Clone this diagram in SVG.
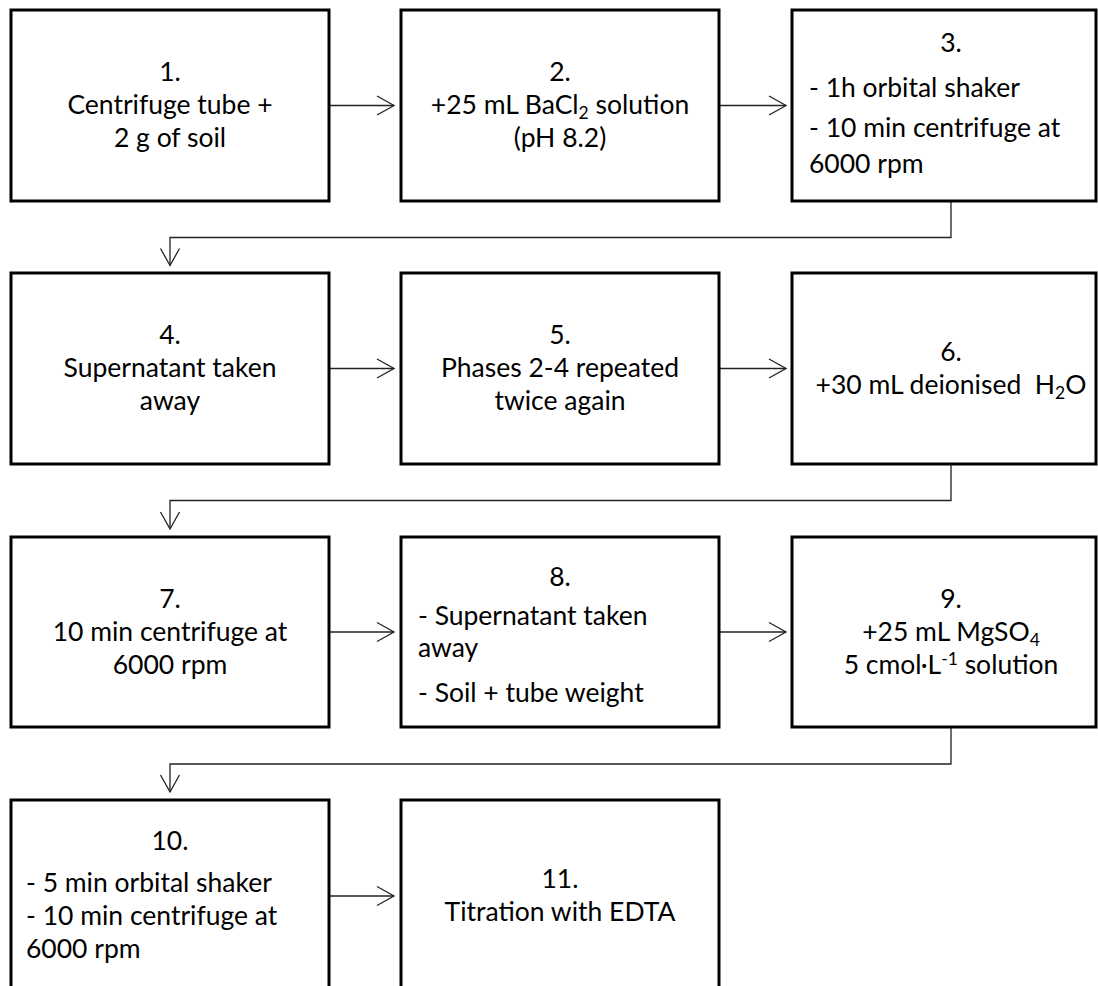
<svg xmlns="http://www.w3.org/2000/svg" width="1098" height="986" viewBox="0 0 1098 986">
<style>
.box{fill:#fff;stroke:#000;stroke-width:3}
.t{font-family:Lato,"Open Sans","Liberation Sans",sans-serif;font-size:26.5px;fill:#000}
.c{text-anchor:middle}
.sub{font-size:17.5px}
.con{fill:none;stroke:#222;stroke-width:1.3}
</style>
<defs>
<marker id="arr" markerWidth="20" markerHeight="22" refX="18" refY="11" orient="auto" markerUnits="userSpaceOnUse" viewBox="0 0 20 22">
<path d="M1,1.5 L18,11 L1,20.5" fill="none" stroke="#222" stroke-width="1.3"/>
</marker>
</defs>
<rect width="1098" height="986" fill="#fff"/>
<g id="connectors">
<path class="con" d="M329,105.5 H394" marker-end="url(#arr)"/>
<path class="con" d="M719,105.5 H786" marker-end="url(#arr)"/>
<path class="con" d="M951,201 V237.5 H170 V265.5" marker-end="url(#arr)"/>
<path class="con" d="M329,368.5 H394" marker-end="url(#arr)"/>
<path class="con" d="M719,368.5 H786" marker-end="url(#arr)"/>
<path class="con" d="M951,464 V500.5 H170 V529" marker-end="url(#arr)"/>
<path class="con" d="M329,632 H394" marker-end="url(#arr)"/>
<path class="con" d="M719,632 H786" marker-end="url(#arr)"/>
<path class="con" d="M951,727 V764 H170 V792" marker-end="url(#arr)"/>
<path class="con" d="M329,896 H394" marker-end="url(#arr)"/>
</g>
<g id="n1">
<rect class="box" x="11" y="10" width="318" height="191"/>
<text class="t c" x="170" y="81">1.</text>
<text class="t c" x="170" y="114">Centrifuge tube +</text>
<text class="t c" x="170" y="147">2 g of soil</text>
</g>
<g id="n2">
<rect class="box" x="401" y="10" width="318" height="191"/>
<text class="t c" x="560" y="81">2.</text>
<text class="t c" x="560" y="114">+25 mL BaCl<tspan class="sub" dy="5">2</tspan><tspan dy="-5"> solution</tspan></text>
<text class="t c" x="560" y="147">(pH 8.2)</text>
</g>
<g id="n3">
<rect class="box" x="792" y="10" width="304" height="191"/>
<text class="t c" x="951" y="52">3.</text>
<text class="t" x="809" y="97">- 1h orbital shaker</text>
<text class="t" x="809" y="137">- 10 min centrifuge at</text>
<text class="t" x="809" y="173">6000 rpm</text>
</g>
<g id="n4">
<rect class="box" x="11" y="273" width="318" height="191"/>
<text class="t c" x="170" y="344">4.</text>
<text class="t c" x="170" y="377">Supernatant taken</text>
<text class="t c" x="170" y="410">away</text>
</g>
<g id="n5">
<rect class="box" x="401" y="273" width="318" height="191"/>
<text class="t c" x="560" y="344">5.</text>
<text class="t c" x="560" y="377">Phases 2-4 repeated</text>
<text class="t c" x="560" y="410">twice again</text>
</g>
<g id="n6">
<rect class="box" x="792" y="273" width="304" height="191"/>
<text class="t c" x="951" y="361">6.</text>
<text class="t c" x="951" y="394" xml:space="preserve">+30 mL deionised  H<tspan class="sub" dy="5">2</tspan><tspan dy="-5">O</tspan></text>
</g>
<g id="n7">
<rect class="box" x="11" y="537" width="318" height="190"/>
<text class="t c" x="170" y="608">7.</text>
<text class="t c" x="170" y="641">10 min centrifuge at</text>
<text class="t c" x="170" y="674">6000 rpm</text>
</g>
<g id="n8">
<rect class="box" x="401" y="537" width="318" height="190"/>
<text class="t c" x="560" y="586">8.</text>
<text class="t" x="418" y="625">- Supernatant taken</text>
<text class="t" x="418" y="657">away</text>
<text class="t" x="418" y="702">- Soil + tube weight</text>
</g>
<g id="n9">
<rect class="box" x="792" y="537" width="304" height="190"/>
<text class="t c" x="951" y="608">9.</text>
<text class="t c" x="951" y="641">+25 mL MgSO<tspan class="sub" dy="5">4</tspan></text>
<text class="t c" x="951" y="674">5 cmol·L<tspan class="sub" dy="-9">-1</tspan><tspan dy="9"> solution</tspan></text>
</g>
<g id="n10">
<rect class="box" x="11" y="800" width="318" height="191"/>
<text class="t c" x="170" y="850">10.</text>
<text class="t" x="26" y="892">- 5 min orbital shaker</text>
<text class="t" x="26" y="925">- 10 min centrifuge at</text>
<text class="t" x="26" y="958">6000 rpm</text>
</g>
<g id="n11">
<rect class="box" x="401" y="800" width="318" height="191"/>
<text class="t c" x="560" y="888">11.</text>
<text class="t c" x="560" y="921">Titration with EDTA</text>
</g>
</svg>
